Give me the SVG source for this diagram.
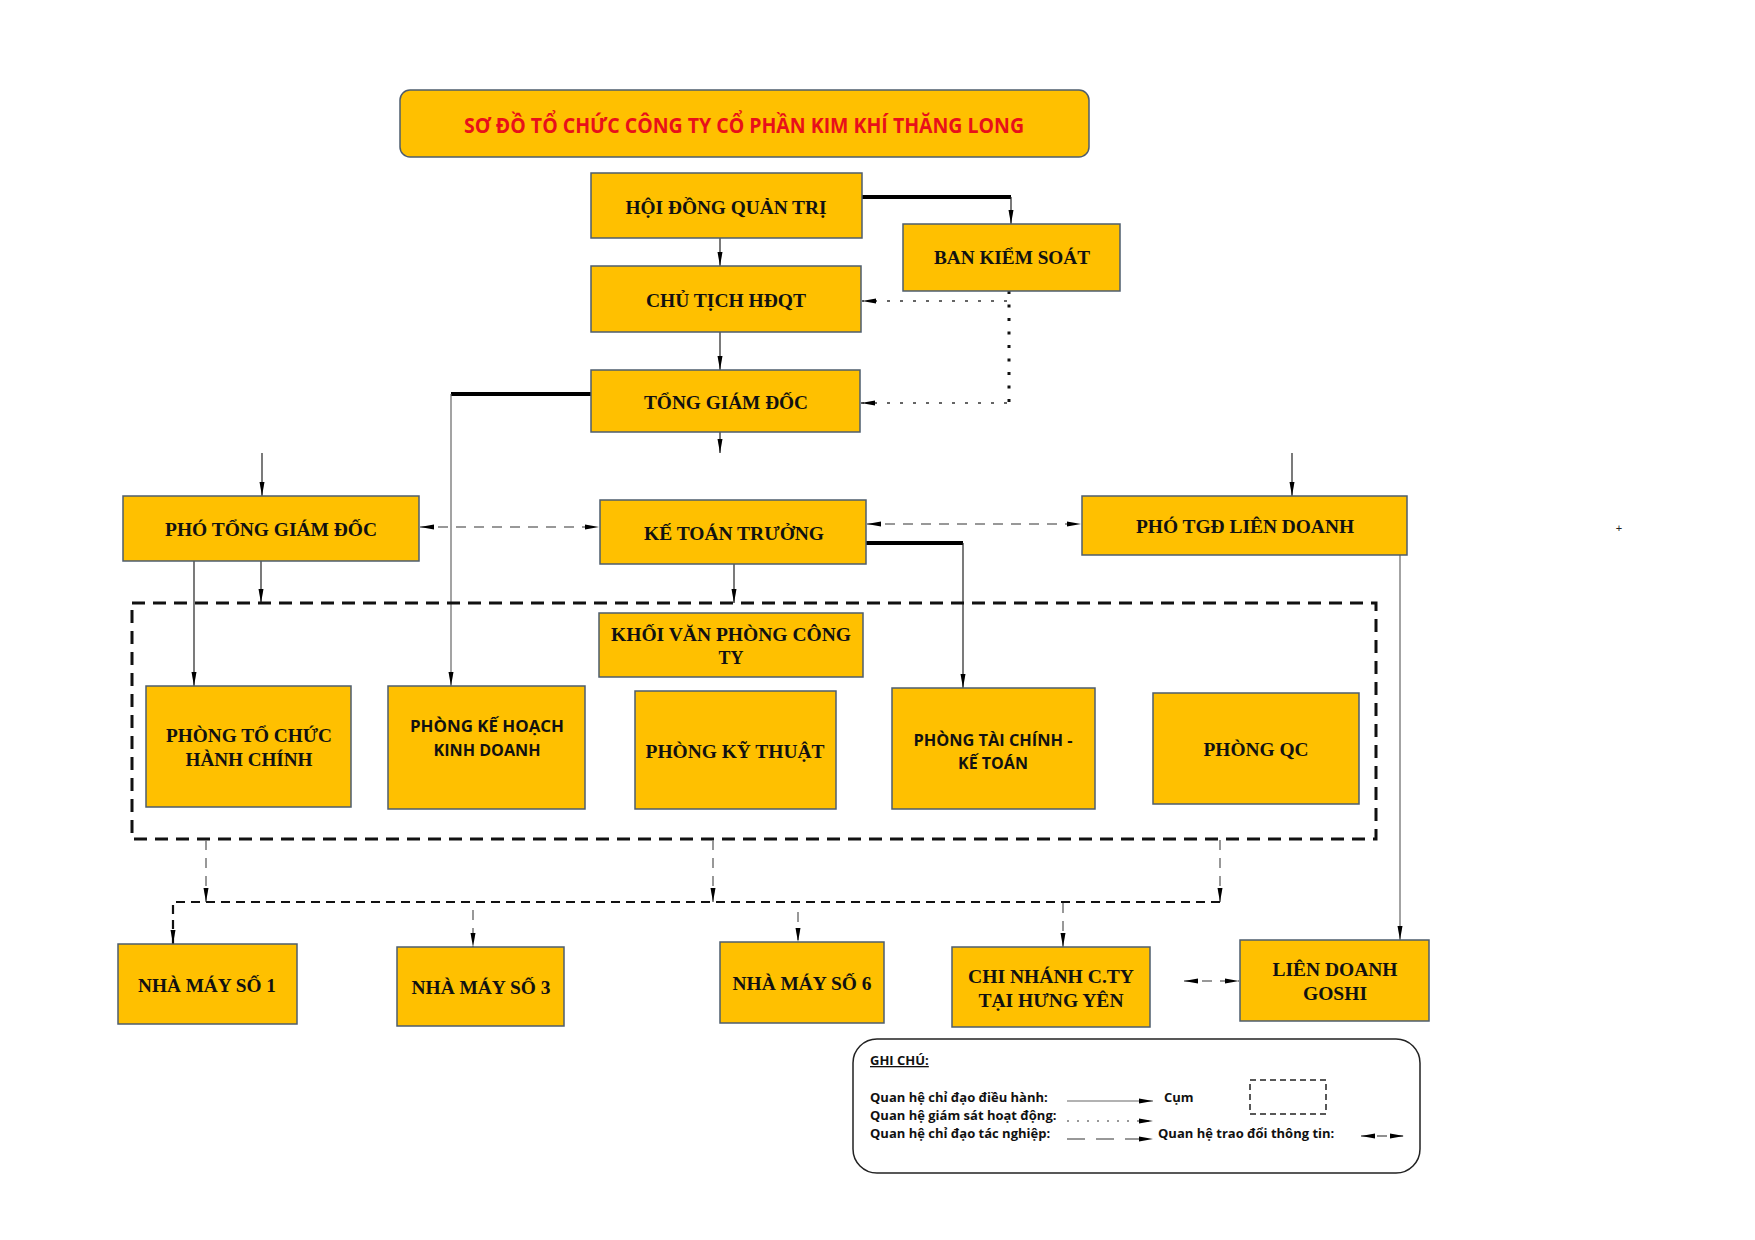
<svg xmlns="http://www.w3.org/2000/svg" width="1755" height="1240" viewBox="0 0 1755 1240">
<style>
.box{fill:#FFC000;stroke:#4E5D6E;stroke-width:1.5}
.t{font-family:"Liberation Serif",serif;font-weight:bold;font-size:18px;text-anchor:middle;dominant-baseline:central;fill:#111}
.s{font-family:"Open Sans","Liberation Sans",sans-serif;font-weight:bold;font-size:16px;text-anchor:middle;dominant-baseline:central;fill:#111}
.ln{fill:none;stroke:#222;stroke-width:1.2}
.gr{fill:none;stroke:#666;stroke-width:1.2}
.thick{fill:none;stroke:#000;stroke-width:4}
.dot{fill:none;stroke:#333;stroke-width:1.5;stroke-dasharray:3 10}
.dotv{fill:none;stroke:#111;stroke-width:3;stroke-dasharray:3 10.5}
.dash{fill:none;stroke:#777;stroke-width:1.5;stroke-dasharray:10 8}
.dashb{fill:none;stroke:#111;stroke-width:2.2;stroke-dasharray:9 6}
.clu{fill:none;stroke:#111;stroke-width:3;stroke-dasharray:13 8}
.lg{font-family:"Open Sans","Liberation Sans",sans-serif;font-weight:bold;font-size:13px;fill:#111}
</style>
<defs>
<marker id="ah" markerUnits="userSpaceOnUse" markerWidth="14" markerHeight="6" refX="14" refY="3" orient="auto-start-reverse">
<path d="M0,0.5 L14,3 L0,5.5 z" fill="#000"/>
</marker>
</defs>
<rect width="1755" height="1240" fill="#fff"/>

<g id="title">
<rect class="box" x="400" y="90" width="689" height="67" rx="10"/>
<text x="744" y="125" font-family="'Open Sans','Liberation Sans',sans-serif" font-weight="bold" font-size="21" fill="#E8101A" text-anchor="middle" dominant-baseline="central" textLength="560" lengthAdjust="spacingAndGlyphs">SƠ ĐỒ TỔ CHỨC CÔNG TY CỔ PHẦN KIM KHÍ THĂNG LONG</text>
</g>

<g id="connectors">
<path class="thick" d="M862,197 H1011"/>
<path class="ln" d="M1011,197 V224" marker-end="url(#ah)"/>
<path class="ln" d="M720,238 V266" marker-end="url(#ah)"/>
<path class="ln" d="M720,332 V370" marker-end="url(#ah)"/>
<path class="ln" d="M720,432 V453" marker-end="url(#ah)"/>
<path class="dotv" d="M1009,291 V409"/>
<path class="dot" d="M1007,301 H862" marker-end="url(#ah)"/>
<path class="dot" d="M1007,403 H861" marker-end="url(#ah)"/>
<path class="thick" d="M591,394 H451"/>
<path class="gr" d="M451,394 V686" marker-end="url(#ah)"/>
<path class="ln" d="M262,453 V496" marker-end="url(#ah)"/>
<path class="ln" d="M1292,453 V496" marker-end="url(#ah)"/>
<path class="dash" d="M420,527 H599" marker-start="url(#ah)" marker-end="url(#ah)"/>
<path class="dash" d="M867,524 H1081" marker-start="url(#ah)" marker-end="url(#ah)"/>
<path class="ln" d="M194,561 V686" marker-end="url(#ah)"/>
<path class="ln" d="M261,561 V603" marker-end="url(#ah)"/>
<path class="ln" d="M734,564 V603" marker-end="url(#ah)"/>
<path class="thick" d="M866,543 H963"/>
<path class="ln" d="M963,543 V688" marker-end="url(#ah)"/>
<path class="gr" d="M1400,555 V940" marker-end="url(#ah)"/>
<rect class="clu" x="132" y="603" width="1244" height="236"/>
<path class="dash" d="M206,840 V902" marker-end="url(#ah)"/>
<path class="dash" d="M713,840 V902" marker-end="url(#ah)"/>
<path class="dash" d="M1220,840 V902" marker-end="url(#ah)"/>
<path class="dashb" d="M1220,902 H173 V944" marker-end="url(#ah)"/>
<path class="dash" d="M473,910 V947" marker-end="url(#ah)"/>
<path class="dash" d="M798,912 V942" marker-end="url(#ah)"/>
<path class="dash" d="M1063,903 V947" marker-end="url(#ah)"/>
<path class="dash" d="M1184,981 H1239" marker-start="url(#ah)" marker-end="url(#ah)"/>
</g>

<g id="hdqt"><rect class="box" x="591" y="173" width="271" height="65"/><text class="t" x="726" y="208" textLength="201" lengthAdjust="spacingAndGlyphs">HỘI ĐỒNG QUẢN TRỊ</text></g>
<g id="bks"><rect class="box" x="903" y="224" width="217" height="67"/><text class="t" x="1012" y="258" textLength="156" lengthAdjust="spacingAndGlyphs">BAN KIỂM SOÁT</text></g>
<g id="ctich"><rect class="box" x="591" y="266" width="270" height="66"/><text class="t" x="726" y="301" textLength="160" lengthAdjust="spacingAndGlyphs">CHỦ TỊCH HĐQT</text></g>
<g id="tgd"><rect class="box" x="591" y="370" width="269" height="62"/><text class="t" x="726" y="403" textLength="164" lengthAdjust="spacingAndGlyphs">TỔNG GIÁM ĐỐC</text></g>
<g id="ptgd"><rect class="box" x="123" y="496" width="296" height="65"/><text class="t" x="271" y="530" textLength="212" lengthAdjust="spacingAndGlyphs">PHÓ TỔNG GIÁM ĐỐC</text></g>
<g id="ktt"><rect class="box" x="600" y="500" width="266" height="64"/><text class="t" x="734" y="534" textLength="180" lengthAdjust="spacingAndGlyphs">KẾ TOÁN TRƯỞNG</text></g>
<g id="ptgdld"><rect class="box" x="1082" y="496" width="325" height="59"/><text class="t" x="1245" y="527" textLength="218" lengthAdjust="spacingAndGlyphs">PHÓ TGĐ LIÊN DOANH</text></g>
<g id="kvp"><rect class="box" x="599" y="613" width="264" height="64"/><text class="t" x="731" y="635" textLength="240" lengthAdjust="spacingAndGlyphs">KHỐI VĂN PHÒNG CÔNG</text><text class="t" x="731" y="658">TY</text></g>
<g id="ptc"><rect class="box" x="146" y="686" width="205" height="121"/><text class="t" x="249" y="736" textLength="166" lengthAdjust="spacingAndGlyphs">PHÒNG TỔ CHỨC</text><text class="t" x="249" y="760" textLength="127" lengthAdjust="spacingAndGlyphs">HÀNH CHÍNH</text></g>
<g id="pkh"><rect class="box" x="388" y="686" width="197" height="123"/><text class="s" x="487" y="726" textLength="154" lengthAdjust="spacingAndGlyphs">PHÒNG KẾ HOẠCH</text><text class="s" x="487" y="750" textLength="107" lengthAdjust="spacingAndGlyphs">KINH DOANH</text></g>
<g id="pkt"><rect class="box" x="635" y="691" width="201" height="118"/><text class="t" x="735" y="752" textLength="179" lengthAdjust="spacingAndGlyphs">PHÒNG KỸ THUẬT</text></g>
<g id="ptckt"><rect class="box" x="892" y="688" width="203" height="121"/><text class="s" x="993" y="740" textLength="159" lengthAdjust="spacingAndGlyphs">PHÒNG TÀI CHÍNH -</text><text class="s" x="993" y="763">KẾ TOÁN</text></g>
<g id="pqc"><rect class="box" x="1153" y="693" width="206" height="111"/><text class="t" x="1256" y="750" textLength="105" lengthAdjust="spacingAndGlyphs">PHÒNG QC</text></g>
<g id="nm1"><rect class="box" x="118" y="944" width="179" height="80"/><text class="t" x="207" y="986" textLength="138" lengthAdjust="spacingAndGlyphs">NHÀ MÁY SỐ 1</text></g>
<g id="nm3"><rect class="box" x="397" y="947" width="167" height="79"/><text class="t" x="481" y="988" textLength="139" lengthAdjust="spacingAndGlyphs">NHÀ MÁY SỐ 3</text></g>
<g id="nm6"><rect class="box" x="720" y="942" width="164" height="81"/><text class="t" x="802" y="984" textLength="139" lengthAdjust="spacingAndGlyphs">NHÀ MÁY SỐ 6</text></g>
<g id="chinhanh"><rect class="box" x="952" y="947" width="198" height="80"/><text class="t" x="1051" y="977" textLength="166" lengthAdjust="spacingAndGlyphs">CHI NHÁNH C.TY</text><text class="t" x="1051" y="1001" textLength="145" lengthAdjust="spacingAndGlyphs">TẠI HƯNG YÊN</text></g>
<g id="goshi"><rect class="box" x="1240" y="940" width="189" height="81"/><text class="t" x="1335" y="970" textLength="125" lengthAdjust="spacingAndGlyphs">LIÊN DOANH</text><text class="t" x="1335" y="994" textLength="64" lengthAdjust="spacingAndGlyphs">GOSHI</text></g>

<text x="1619" y="528" font-family="'Liberation Sans',sans-serif" font-size="11" text-anchor="middle" dominant-baseline="central" fill="#222">+</text>

<g id="legend">
<rect x="853" y="1039" width="567" height="134" rx="24" fill="none" stroke="#222" stroke-width="1.5"/>
<text class="lg" x="870" y="1065" text-decoration="underline">GHI CHÚ:</text>
<text class="lg" x="870" y="1102">Quan hệ chỉ đạo điều hành:</text>
<text class="lg" x="870" y="1120">Quan hệ giám sát hoạt động:</text>
<text class="lg" x="870" y="1138">Quan hệ chỉ đạo tác nghiệp:</text>
<text class="lg" x="1164" y="1102">Cụm</text>
<text class="lg" x="1158" y="1138">Quan hệ trao đổi thông tin:</text>
<path class="gr" d="M1067,1101 H1153" marker-end="url(#ah)"/>
<path class="dot" style="stroke-width:1.2;stroke-dasharray:2 8" d="M1067,1121 H1153" marker-end="url(#ah)"/>
<path class="dash" style="stroke:#333;stroke-width:1.2;stroke-dasharray:18 11" d="M1067,1139 H1153" marker-end="url(#ah)"/>
<rect x="1250" y="1080" width="76" height="34" fill="none" stroke="#222" stroke-width="1.5" stroke-dasharray="6 4"/>
<path class="ln" style="stroke-dasharray:10 6" d="M1361,1136 H1404" marker-start="url(#ah)" marker-end="url(#ah)"/>
</g>
</svg>
